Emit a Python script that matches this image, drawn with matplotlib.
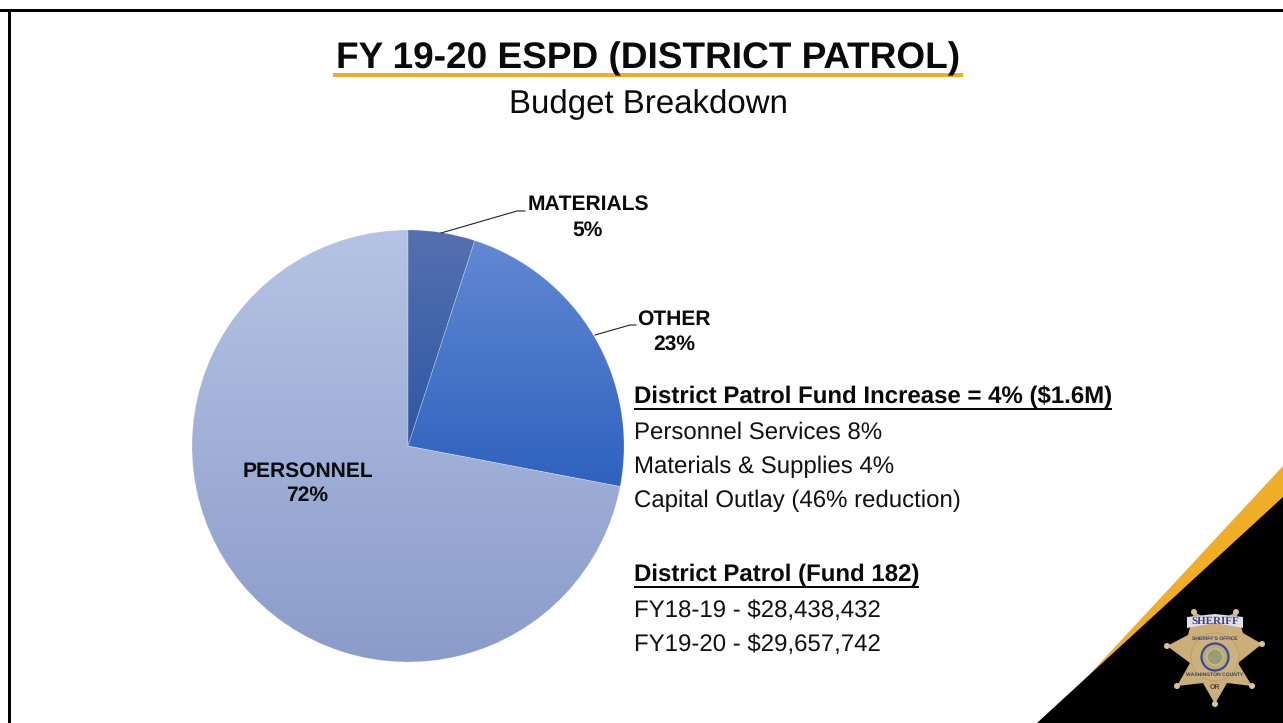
import numpy as np
import matplotlib
matplotlib.use("Agg")
import matplotlib.pyplot as plt
from matplotlib.colors import LinearSegmentedColormap
from matplotlib.patches import Polygon, Circle, Rectangle

plt.rcParams['font.family'] = ['Liberation Sans', 'DejaVu Sans']
plt.rcParams['text.hinting'] = 'none'
plt.rcParams['text.hinting_factor'] = 1

W, H = 1283, 723
categories = ["MATERIALS", "OTHER", "PERSONNEL"]
values = [5, 23, 72]
top_colors = ["#5570AF", "#6288D2", "#B5C3E4"]
bottom_colors = ["#2C57A6", "#2E62BE", "#8B9CCA"]

title = "FY 19-20 ESPD (DISTRICT PATROL)"
subtitle = "Budget Breakdown"
increase_head = "District Patrol Fund Increase = 4% ($1.6M)"
increase_lines = ["Personnel Services 8%", "Materials & Supplies 4%", "Capital Outlay (46% reduction)"]
fund_head = "District Patrol (Fund 182)"
fund_lines = ["FY18-19 - $28,438,432", "FY19-20 - $29,657,742"]

fig = plt.figure(figsize=(W / 100, H / 100), dpi=100, facecolor="white")

# overlay in pixel coordinates
ov = fig.add_axes([0, 0, 1, 1], zorder=1)
ov.set_xlim(0, W); ov.set_ylim(H, 0); ov.axis("off")
ov.patch.set_alpha(0)

# frame
ov.add_patch(Rectangle((0, 9), W, 3, color="black", lw=0))
ov.add_patch(Rectangle((8, 9), 3, H, color="black", lw=0))

# corner graphic
ov.add_patch(Polygon([(1283, 466), (1283, 498), (1075, 690)], color="#F0AE26", lw=0))
ov.add_patch(Polygon([(1283, 497), (1283, 723), (1037, 723)], color="black", lw=0))

# badge
star_tips = [(1194, 612), (1236, 612), (1262, 644), (1252, 686), (1215, 704), (1177, 686), (1167, 646)]
star_inner = [(1215, 623), (1243, 633), (1238, 663), (1227, 683), (1203, 683), (1190, 663), (1188, 635)]
star = []
for i in range(7):
    star.append(star_tips[i])
    star.append(star_inner[i])
cx, cy = 1215, 657
ov.add_patch(Polygon(star, color="#CBAE78", lw=0, zorder=3))
for x, y in star_tips:
    ov.add_patch(Circle((x, y), 3, color="#D9C193", lw=0, zorder=3))
ov.add_patch(Circle((cx, cy), 24, fc="#CDB17C", ec="#BFA26C", lw=0.8, zorder=4))
ov.add_patch(Circle((cx, cy), 13.5, fc="#B9AB78", ec="#3F4796", lw=1.6, zorder=4))
ov.add_patch(Circle((cx, cy), 8, fc="#9A9C74", ec="#C9BC8C", lw=1, zorder=4))
ov.add_patch(Polygon([(1187, 617), (1215, 614), (1243, 617), (1243, 628), (1215, 623), (1187, 628)],
                     color="#E2DEE4", lw=0, zorder=4))
ov.text(1215, 621, "SHERIFF", ha="center", va="center", fontsize=8, fontweight="bold",
        color="#38408F", zorder=5, fontfamily="Liberation Serif")
ov.text(cx, cy - 18, "SHERIFF'S OFFICE", ha="center", va="center", fontsize=3.6, fontweight="bold", color="#3A3F6F", zorder=5)
ov.text(cx, cy + 18, "WASHINGTON COUNTY", ha="center", va="center", fontsize=3.4, fontweight="bold", color="#3A3F6F", zorder=5)
ov.text(cx, cy + 30, "OR", ha="center", va="center", fontsize=5, fontweight="bold", color="#4A4650", zorder=5)

# pie
cxp, cyp, R = 408, 446, 216
pad = 1.02
ax = fig.add_axes([(cxp - R * pad) / W, 1 - (cyp + R * pad) / H, 2 * R * pad / W, 2 * R * pad / H], zorder=0.5)
wedges, _ = ax.pie(values, startangle=90, counterclock=False, radius=1,
                   colors=["none"] * 3, wedgeprops=dict(edgecolor=(1, 1, 1, 0.2), linewidth=0.6, zorder=3))
for w, c0, c1 in zip(wedges, top_colors, bottom_colors):
    ext = w.get_path().transformed(w.get_patch_transform()).get_extents()
    cm = LinearSegmentedColormap.from_list("g", [c0, c1])
    im = ax.imshow(np.linspace(0, 1, 256)[:, None], cmap=cm, aspect="auto", origin="upper",
                   extent=[ext.x0, ext.x1, ext.y0, ext.y1], zorder=2)
    im.set_clip_path(w.get_path(), w.get_patch_transform() + ax.transData)
ax.set_xlim(-pad, pad); ax.set_ylim(-pad, pad); ax.set_aspect("equal"); ax.axis("off")

# pie labels and leader lines
label_pos = [(588, 210, 235.5), (674, 325, 350), (307.5, 476.5, 501)]
for name, v, (x, y1, y2) in zip(categories, values, label_pos):
    ov.text(x, y1, name, ha="center", va="baseline", fontsize=15.2, fontweight="bold", color="#0A0A0A")
    ov.text(x, y2, f"{v}%", ha="center", va="baseline", fontsize=15.2, fontweight="bold", color="#0A0A0A")
ov.plot([441, 517, 525], [233, 211, 211], color="#222222", lw=0.8)
ov.plot([595, 630, 636], [335, 325, 325], color="#222222", lw=0.8)

# titles
ov.text(648, 68.5, title, ha="center", va="baseline", fontsize=26.9, fontweight="bold", color="#0A0A0A")
ov.add_patch(Rectangle((333, 73), 630, 4, color="#F0AE26", lw=0))
ov.text(648, 113.5, subtitle, ha="center", va="baseline", fontsize=23.8, color="#0A0A0A")

# right notes
def head(y, s, x1):
    ov.text(634, y, s, ha="left", va="baseline", fontsize=17.2, fontweight="bold", color="#0A0A0A")
    ov.add_patch(Rectangle((634, y + 4), x1 - 634, 2.6, color="#0A0A0A", lw=0))

head(403.5, increase_head, 1112)
for y, s in zip([439, 473, 507], increase_lines):
    ov.text(634, y, s, ha="left", va="baseline", fontsize=17.2, color="#111111")
head(581.5, fund_head, 919)
for y, s in zip([617, 651], fund_lines):
    ov.text(634, y, s, ha="left", va="baseline", fontsize=17.2, color="#111111")

fig.savefig("out.png", dpi=100, facecolor="white")
